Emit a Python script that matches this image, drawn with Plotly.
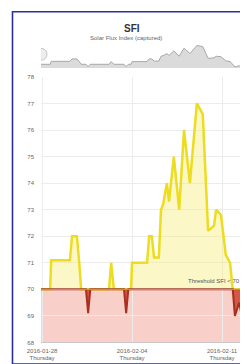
import plotly.graph_objects as go

# ---- data ----
times = [
    "2016-01-27 22:00", "2016-01-28 15:00", "2016-01-28 17:00", "2016-01-30 04:00",
    "2016-01-30 08:00", "2016-01-30 17:00", "2016-01-30 21:00", "2016-01-31 01:00",
    "2016-01-31 10:00", "2016-01-31 14:00", "2016-01-31 18:00", "2016-02-02 05:00",
    "2016-02-02 09:00", "2016-02-02 14:00", "2016-02-03 09:00", "2016-02-03 13:00",
    "2016-02-03 17:00", "2016-02-03 22:00", "2016-02-04 00:00", "2016-02-05 04:00",
    "2016-02-05 08:00", "2016-02-05 13:00", "2016-02-05 17:00", "2016-02-06 02:00",
    "2016-02-06 06:00", "2016-02-06 10:00", "2016-02-06 17:00", "2016-02-06 21:00",
    "2016-02-07 06:00", "2016-02-07 16:00", "2016-02-08 01:00", "2016-02-08 12:00",
    "2016-02-09 01:00", "2016-02-09 12:00", "2016-02-09 22:00", "2016-02-10 09:00",
    "2016-02-10 13:00", "2016-02-10 22:00", "2016-02-11 07:00", "2016-02-11 15:00",
    "2016-02-11 20:00", "2016-02-12 00:00", "2016-02-12 08:00", "2016-02-12 13:00",
    "2016-02-12 19:00", "2016-02-13 02:20",
]
sfi = [
    70.0, 70.0, 71.1, 71.1,
    72.0, 72.0, 71.1, 70.0,
    70.0, 69.1, 70.0, 70.0,
    71.0, 70.0, 70.0, 69.1,
    70.0, 70.0, 71.0, 71.0,
    72.0, 72.0, 71.2, 71.2,
    73.0, 73.2, 74.0, 73.3,
    75.0, 73.0, 76.0, 74.0,
    77.0, 76.6, 72.2, 72.4,
    73.0, 72.8, 71.3, 71.0,
    70.0, 69.0, 69.5, 69.0,
    69.3, 69.0,
]
threshold = 70
x_range = ["2016-01-27 22:00", "2016-02-13 02:20"]
tick_vals = ["2016-01-28", "2016-02-04", "2016-02-11"]
tick_text = ["2016-01-28<br>Thursday", "2016-02-04<br>Thursday", "2016-02-11<br>Thursday"]
y_ticks = list(range(68, 79))

above = [max(v, threshold) for v in sfi]
below = [min(v, threshold) for v in sfi]
base = [threshold] * len(sfi)

W, H = 248, 364
L, R = 33, 7
PW = W - L - R

def px(x):
    return (x - L) / PW

def py(y):
    return (H - y) / H

fig = go.Figure()

# navigator
fig.add_trace(go.Scatter(x=times, y=sfi, mode="lines", xaxis="x2", yaxis="y2",
                         line=dict(color="#a8a8a8", width=1), fill="tozeroy",
                         fillcolor="rgba(190,190,190,0.55)", hoverinfo="skip"))

# main: baseline, above (yellow), baseline, below (red)
fig.add_trace(go.Scatter(x=times, y=base, mode="lines", line=dict(width=0), hoverinfo="skip"))
fig.add_trace(go.Scatter(x=times, y=above, mode="lines", fill="tonexty",
                         fillcolor="rgba(248,236,120,0.42)",
                         line=dict(color="#eedc1e", width=2.5)))
fig.add_trace(go.Scatter(x=times, y=base, mode="lines", line=dict(width=0), hoverinfo="skip"))
fig.add_trace(go.Scatter(x=times, y=below, mode="lines", fill="tonexty",
                         fillcolor="rgba(205,45,25,0.75)",
                         line=dict(color="#a8301e", width=2)))

shapes = [
    # pink band below threshold
    dict(type="rect", xref="paper", yref="y", x0=0, x1=1, y0=68, y1=threshold,
         fillcolor="#f9cfc9", line=dict(width=0), layer="below"),
    # threshold line
    dict(type="line", xref="paper", yref="y", x0=0, x1=1, y0=threshold, y1=threshold,
         line=dict(color="#a89484", width=1.2), layer="above"),
    # navigator handles
    dict(type="circle", xref="x2", yref="paper", xsizemode="pixel", ysizemode="pixel",
         xanchor=x_range[0], yanchor=py(44), x0=-6, x1=6, y0=-6, y1=6,
         fillcolor="#ededed", line=dict(color="#c4c4c4", width=1)),
    dict(type="circle", xref="x2", yref="paper", xsizemode="pixel", ysizemode="pixel",
         xanchor=x_range[1], yanchor=py(44), x0=-6, x1=6, y0=-6, y1=6,
         fillcolor="#ededed", line=dict(color="#c4c4c4", width=1)),
    # outer frame
    dict(type="rect", xref="paper", yref="paper", x0=px(4.5), x1=px(250), y0=py(359), y1=py(0.8),
         line=dict(color="#2a2f9c", width=1.6), fillcolor="rgba(0,0,0,0)"),
]

annotations = [
    dict(text="<b>SFI</b>", xref="paper", yref="paper", x=px(124), y=py(10),
         showarrow=False, font=dict(size=10, color="#333333", family="Liberation Sans")),
    dict(text="Solar Flux Index (captured)", xref="paper", yref="paper", x=px(118), y=py(22.5),
         showarrow=False, font=dict(size=6, color="#666666", family="Liberation Sans")),
    dict(text="Threshold SFI < 70", xref="paper", yref="y", x=px(234), y=threshold,
         xanchor="right", yanchor="bottom", yshift=3, showarrow=False,
         font=dict(size=6, color="#555555", family="Liberation Sans")),
]

fig.update_layout(
    width=W, height=H,
    margin=dict(l=L, r=R, t=0, b=0),
    paper_bgcolor="white", plot_bgcolor="white",
    showlegend=False,
    shapes=shapes, annotations=annotations,
    font=dict(family="Liberation Sans", size=6, color="#666666"),
    xaxis=dict(type="date", range=x_range, domain=[0, 1], tickvals=tick_vals, ticktext=tick_text,
               showgrid=True, gridcolor="#ececec", gridwidth=1, showline=True, linecolor="#c8c8c8",
               ticks="", tickfont=dict(size=6, color="#666666"), ticklabelstandoff=2, zeroline=False),
    yaxis=dict(range=[68, 78], domain=[py(337), py(67)], tickvals=y_ticks,
               showgrid=True, gridcolor="#ececec", gridwidth=1, zeroline=False,
               tickfont=dict(size=6, color="#666666"), ticklabelstandoff=6),
    xaxis2=dict(type="date", range=x_range, domain=[0, 1], anchor="y2", showticklabels=False,
                showgrid=False, zeroline=False),
    yaxis2=dict(range=[68.6, 77.4], domain=[py(58), py(34)], anchor="x2", showticklabels=False,
                showgrid=False, zeroline=False),
)

fig.write_html("out.html")
